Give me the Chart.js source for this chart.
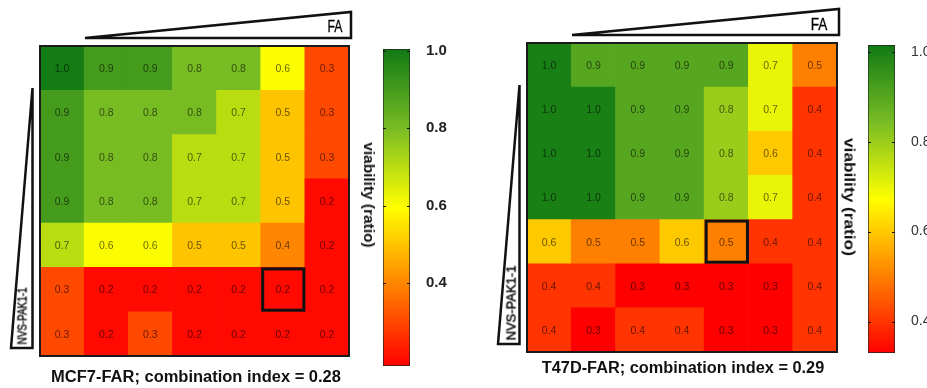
<!DOCTYPE html>
<html lang="en">
<head>
<meta charset="UTF-8">
<title>Viability heatmaps</title>
<script src="https://cdn.jsdelivr.net/npm/chart.js"></script>
<style>
    * { margin: 0; padding: 0; box-sizing: border-box; }
    body {
        width: 927px; height: 388px; background: #fff;
        position: relative; overflow: hidden;
        font-family: 'Liberation Sans', Arial, sans-serif; color: #111;
    }
    canvas { position: absolute; top: 0; }
    .lbl { position: absolute; white-space: nowrap; line-height: 1; }
    .title { font-weight: 700; font-size: 16px; }
    .fa { font-size: 17px; color: #000; -webkit-text-stroke: 0.3px #000; }
    .nvs { font-size: 13px; color: #000; -webkit-text-stroke: 0.4px #000; }
    .via { font-weight: 700; }
</style>
</head>
<body>
<canvas id="heatMcf7" width="360" height="388" style="left:0px"></canvas>
<canvas id="cbMcf7" width="80" height="388" style="left:375px"></canvas>
<canvas id="heatT47d" width="360" height="388" style="left:490px"></canvas>
<canvas id="cbT47d" width="67" height="388" style="left:860px"></canvas>

<!-- labels -->
<div class="lbl title" style="left:196px;top:377px;transform:translate(-50%,-50%) scaleX(1.03)">MCF7-FAR; combination index = 0.28</div>
<div class="lbl title" style="left:683px;top:368px;transform:translate(-50%,-50%) scaleX(1.02)">T47D-FAR; combination index = 0.29</div>
<div class="lbl fa" style="left:335px;top:26px;transform:translate(-50%,-50%) scaleX(0.72)">FA</div>
<div class="lbl fa" style="left:819px;top:24px;transform:translate(-50%,-50%) scaleX(0.8)">FA</div>
<div class="lbl nvs" style="left:22px;top:316px;transform:translate(-50%,-50%) rotate(-90deg) scaleX(0.76)">NVS-PAK1-1</div>
<div class="lbl nvs" style="left:511px;top:303px;transform:translate(-50%,-50%) rotate(-90deg)">NVS-PAK1-1</div>
<div class="lbl via" style="left:369px;top:195px;font-size:14px;transform:translate(-50%,-50%) rotate(90deg) scaleX(1.1)">viability (ratio)</div>
<div class="lbl via" style="left:850px;top:197px;font-size:15px;transform:translate(-50%,-50%) rotate(90deg) scaleX(1.15)">viability (ratio)</div>

<script>
    // FA dose (columns, left to right) and NVS-PAK1-1 dose (rows, top to bottom)
    const faDoses = ['FA 1', 'FA 2', 'FA 3', 'FA 4', 'FA 5', 'FA 6', 'FA 7'];
    const pakDoses = ['PAK 1', 'PAK 2', 'PAK 3', 'PAK 4', 'PAK 5', 'PAK 6', 'PAK 7'];

    // viability (ratio), one row per NVS-PAK1-1 dose
    const mcf7Viability = [
        [1.0, 0.9, 0.9, 0.8, 0.8, 0.6, 0.3],
        [0.9, 0.8, 0.8, 0.8, 0.7, 0.5, 0.3],
        [0.9, 0.8, 0.8, 0.7, 0.7, 0.5, 0.3],
        [0.9, 0.8, 0.8, 0.7, 0.7, 0.5, 0.2],
        [0.7, 0.6, 0.6, 0.5, 0.5, 0.4, 0.2],
        [0.3, 0.2, 0.2, 0.2, 0.2, 0.2, 0.2],
        [0.3, 0.2, 0.3, 0.2, 0.2, 0.2, 0.2]
    ];
    const t47dViability = [
        [1.0, 0.9, 0.9, 0.9, 0.9, 0.7, 0.5],
        [1.0, 1.0, 0.9, 0.9, 0.8, 0.7, 0.4],
        [1.0, 1.0, 0.9, 0.9, 0.8, 0.6, 0.4],
        [1.0, 1.0, 0.9, 0.9, 0.8, 0.7, 0.4],
        [0.6, 0.5, 0.5, 0.6, 0.5, 0.4, 0.4],
        [0.4, 0.4, 0.3, 0.3, 0.3, 0.3, 0.4],
        [0.4, 0.3, 0.4, 0.4, 0.3, 0.3, 0.4]
    ];

    // colour bar ranges and ticks
    const mcf7Range = [0.185, 1.005];
    const t47dRange = [0.33, 1.015];
    const cbTicks = [0.4, 0.6, 0.8, 1.0];

    // highlighted (synergy) cells: [row, col]
    const mcf7Box = [5, 5];
    const t47dBox = [4, 4];

    // red -> orange -> yellow -> green
    const stops = [
        [0.00, [255, 0, 0]],
        [0.25, [255, 128, 0]],
        [0.50, [255, 255, 0]],
        [0.75, [120, 188, 36]],
        [1.00, [16, 122, 20]]
    ];

    function colorFor(v, range) {
        let t = (v - range[0]) / (range[1] - range[0]);
        t = Math.max(0, Math.min(1, t));
        for (let i = 1; i < stops.length; i++) {
            if (t <= stops[i][0]) {
                const [t0, c0] = stops[i - 1];
                const [t1, c1] = stops[i];
                const f = (t - t0) / (t1 - t0);
                const c = c0.map((x, k) => Math.round(x + (c1[k] - x) * f));
                return 'rgb(' + c.join(',') + ')';
            }
        }
        return 'rgb(' + stops[stops.length - 1][1].join(',') + ')';
    }

    // numbers in the cells, frame, highlight box and dose wedges
    const heatDecor = {
        id: 'heatDecor',
        afterDatasetsDraw(chart, args, opts) {
            const ctx = chart.ctx;
            const a = chart.chartArea;
            const n = chart.data.datasets.length;
            ctx.save();
            ctx.font = '10.5px "Liberation Sans", Arial, sans-serif';
            ctx.fillStyle = 'rgba(0,0,0,0.6)';
            ctx.textAlign = 'center';
            ctx.textBaseline = 'middle';
            chart.data.datasets.forEach((ds, i) => {
                chart.getDatasetMeta(i).data.forEach((bar, j) => {
                    const p = bar.getProps(['x', 'y', 'base'], true);
                    ctx.fillText(ds.viability[j].toFixed(1), p.x, (p.y + p.base) / 2 + 1);
                });
            });

            ctx.strokeStyle = '#1b1b1b';
            ctx.lineWidth = 2;
            ctx.strokeRect(a.left, a.top, a.right - a.left, a.bottom - a.top);

            const cell = chart.getDatasetMeta(n - 1 - opts.box[0]).data[opts.box[1]];
            const p = cell.getProps(['x', 'y', 'base', 'width'], true);
            ctx.lineWidth = 3;
            ctx.strokeStyle = '#111';
            ctx.strokeRect(p.x - p.width / 2 + 2, p.y + 1.5, p.width - 3, p.base - p.y - 3);

            // FA wedge (top) and NVS-PAK1-1 wedge (left)
            ctx.lineWidth = 2.5;
            ctx.lineJoin = 'miter';
            ctx.beginPath();
            ctx.moveTo(a.left + 45, a.top - 8);
            ctx.lineTo(a.right + 2, a.top - 34);
            ctx.lineTo(a.right + 2, a.top - 8);
            ctx.closePath();
            ctx.stroke();

            ctx.beginPath();
            ctx.moveTo(a.left - 7.5, a.top + 42);
            ctx.lineTo(a.left - 7.5, a.bottom - 8);
            ctx.lineTo(a.left - 29, a.bottom - 8);
            ctx.closePath();
            ctx.stroke();
            ctx.restore();
        }
    };

    function heatChart(id, values, range, box, pad) {
        const datasets = values.map((row, r) => ({
            label: pakDoses[r],
            data: row.map(() => 1),
            viability: row,
            backgroundColor: row.map(v => colorFor(v, range)),
            borderWidth: 0,
            barPercentage: 1,
            categoryPercentage: 1
        })).reverse();

        return new Chart(document.getElementById(id), {
            type: 'bar',
            data: { labels: faDoses, datasets: datasets },
            options: {
                responsive: false,
                animation: false,
                layout: { padding: pad },
                plugins: {
                    legend: { display: false },
                    tooltip: { enabled: false },
                    heatDecor: { box: box }
                },
                scales: {
                    x: { display: false, stacked: true },
                    y: { display: false, stacked: true, min: 0, max: values.length }
                }
            },
            plugins: [heatDecor]
        });
    }

    // small inward tick marks on the colour bar
    const cbMarks = {
        id: 'cbMarks',
        afterDatasetsDraw(chart) {
            const ctx = chart.ctx;
            const a = chart.chartArea;
            const y = chart.scales.y;
            ctx.save();
            ctx.strokeStyle = '#111';
            ctx.lineWidth = 1;
            cbTicks.forEach(v => {
                const py = Math.round(y.getPixelForValue(v)) + 0.5;
                ctx.beginPath();
                ctx.moveTo(a.left, py); ctx.lineTo(a.left + 3, py);
                ctx.moveTo(a.right - 3, py); ctx.lineTo(a.right, py);
                ctx.stroke();
            });
            ctx.restore();
        }
    };

    function colorBar(id, range, pad, axisW, tickFont, tickColor) {
        return new Chart(document.getElementById(id), {
            type: 'bar',
            data: {
                labels: ['viability'],
                datasets: [{
                    data: [[range[0], range[1]]],
                    backgroundColor: (c) => {
                        const a = c.chart.chartArea;
                        if (!a) return null;
                        const g = c.chart.ctx.createLinearGradient(0, a.bottom, 0, a.top);
                        stops.forEach(([t, col]) => g.addColorStop(t, 'rgb(' + col.join(',') + ')'));
                        return g;
                    },
                    borderColor: '#222',
                    borderWidth: 1,
                    borderSkipped: false,
                    barPercentage: 1,
                    categoryPercentage: 1
                }]
            },
            options: {
                responsive: false,
                animation: false,
                layout: { padding: pad },
                plugins: { legend: { display: false }, tooltip: { enabled: false } },
                scales: {
                    x: { display: false },
                    y: {
                        position: 'right',
                        min: range[0],
                        max: range[1],
                        afterBuildTicks: s => { s.ticks = cbTicks.map(v => ({ value: v })); },
                        afterFit: s => { s.width = axisW; },
                        grid: { display: false },
                        border: { display: false },
                        ticks: {
                            padding: 8,
                            color: tickColor,
                            font: tickFont,
                            callback: v => v.toFixed(1)
                        }
                    }
                }
            },
            plugins: [cbMarks]
        });
    }

    heatChart('heatMcf7', mcf7Viability, mcf7Range, mcf7Box, { left: 40, top: 46, right: 11, bottom: 32 });
    heatChart('heatT47d', t47dViability, t47dRange, t47dBox, { left: 37, top: 43, right: 13, bottom: 36 });

    colorBar('cbMcf7', mcf7Range, { left: 8, top: 49, right: 0, bottom: 22 }, 45,
        { family: '"Liberation Sans", Arial, sans-serif', size: 15, weight: 'bold' }, '#222');
    colorBar('cbT47d', t47dRange, { left: 8, top: 45, right: 0, bottom: 35 }, 32,
        { family: '"Liberation Sans", Arial, sans-serif', size: 14 }, '#333');
</script>
</body>
</html>
